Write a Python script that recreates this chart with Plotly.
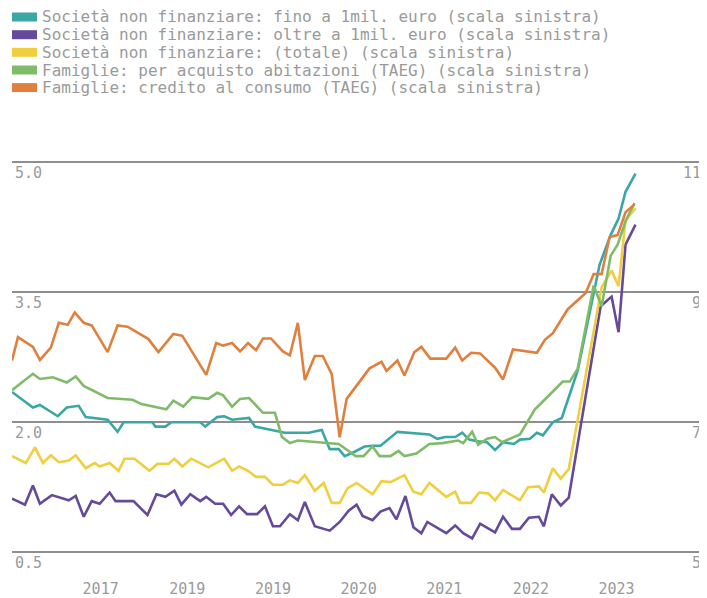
import plotly.graph_objects as go

# ---------------- data (time in decimal years) ----------------
teal_t = [2017.00, 2017.21, 2017.28, 2017.46, 2017.55, 2017.67, 2017.74, 2017.96, 2018.06, 2018.12,
          2018.41, 2018.44, 2018.54, 2018.60, 2018.89, 2018.94, 2019.06, 2019.13, 2019.21, 2019.38,
          2019.44, 2019.67, 2019.74, 2019.98, 2020.11, 2020.19, 2020.28, 2020.34, 2020.44, 2020.54,
          2020.62, 2020.70, 2020.87, 2021.19, 2021.27, 2021.35, 2021.45, 2021.52, 2021.59, 2021.68,
          2021.77, 2021.85, 2021.93, 2022.04, 2022.10, 2022.20, 2022.27, 2022.33, 2022.43, 2022.52,
          2022.68, 2022.90, 2023.01, 2023.09, 2023.16, 2023.26]
teal_v = [2.35, 2.17, 2.20, 2.07, 2.17, 2.19, 2.06, 2.03, 1.89, 2.00,
          2.00, 1.95, 1.95, 2.00, 2.00, 1.95, 2.06, 2.07, 2.03, 2.05,
          1.95, 1.90, 1.88, 1.88, 1.91, 1.69, 1.69, 1.61, 1.66, 1.72,
          1.73, 1.73, 1.89, 1.86, 1.81, 1.83, 1.83, 1.88, 1.80, 1.78,
          1.77, 1.68, 1.77, 1.75, 1.80, 1.81, 1.88, 1.85, 2.00, 2.05,
          2.60, 3.82, 4.16, 4.35, 4.66, 4.87]

purple_t = [2017.00, 2017.13, 2017.21, 2017.28, 2017.40, 2017.57, 2017.64, 2017.72, 2017.80, 2017.88,
            2017.98, 2018.04, 2018.22, 2018.36, 2018.45, 2018.54, 2018.63, 2018.70, 2018.79, 2018.89,
            2018.95, 2019.04, 2019.12, 2019.20, 2019.28, 2019.36, 2019.46, 2019.54, 2019.62, 2019.69,
            2019.79, 2019.87, 2019.94, 2020.04, 2020.19, 2020.29, 2020.38, 2020.46, 2020.52, 2020.62,
            2020.70, 2020.79, 2020.86, 2020.95, 2021.03, 2021.11, 2021.17, 2021.36, 2021.45, 2021.53,
            2021.62, 2021.70, 2021.85, 2021.93, 2022.02, 2022.10, 2022.19, 2022.29, 2022.34, 2022.42,
            2022.51, 2022.59, 2022.91, 2023.02, 2023.09, 2023.16, 2023.26]
purple_v = [1.12, 1.05, 1.27, 1.06, 1.16, 1.10, 1.15, 0.91, 1.09, 1.06,
            1.19, 1.09, 1.09, 0.93, 1.17, 1.14, 1.21, 1.05, 1.17, 1.09,
            1.14, 1.06, 1.06, 0.93, 1.03, 0.94, 0.94, 1.03, 0.80, 0.80,
            0.94, 0.87, 1.08, 0.80, 0.75, 0.85, 0.98, 1.05, 0.92, 0.87,
            0.97, 1.01, 0.88, 1.15, 0.79, 0.72, 0.85, 0.72, 0.81, 0.72,
            0.66, 0.83, 0.73, 0.91, 0.77, 0.77, 0.90, 0.91, 0.80, 1.17,
            1.04, 1.13, 3.34, 3.45, 3.04, 4.05, 4.28]

yellow_t = [2017.00, 2017.14, 2017.23, 2017.31, 2017.39, 2017.47, 2017.57, 2017.64, 2017.74, 2017.83,
            2017.88, 2017.98, 2018.07, 2018.13, 2018.23, 2018.38, 2018.46, 2018.57, 2018.63, 2018.71,
            2018.80, 2018.97, 2019.13, 2019.21, 2019.28, 2019.37, 2019.45, 2019.54, 2019.62, 2019.72,
            2019.79, 2019.87, 2019.94, 2020.04, 2020.13, 2020.21, 2020.29, 2020.37, 2020.46, 2020.62,
            2020.71, 2020.80, 2020.94, 2021.03, 2021.11, 2021.19, 2021.36, 2021.45, 2021.50, 2021.61,
            2021.69, 2021.78, 2021.85, 2021.93, 2022.10, 2022.18, 2022.29, 2022.34, 2022.43, 2022.51,
            2022.59, 2022.92, 2023.02, 2023.09, 2023.16, 2023.26]
yellow_v = [1.61, 1.53, 1.71, 1.53, 1.62, 1.54, 1.56, 1.62, 1.47, 1.53,
            1.49, 1.53, 1.44, 1.58, 1.58, 1.44, 1.52, 1.52, 1.58, 1.49,
            1.58, 1.48, 1.58, 1.44, 1.49, 1.44, 1.37, 1.37, 1.28, 1.28,
            1.33, 1.30, 1.39, 1.21, 1.30, 1.07, 1.07, 1.24, 1.30, 1.17,
            1.32, 1.31, 1.39, 1.20, 1.17, 1.30, 1.14, 1.20, 1.07, 1.07,
            1.19, 1.18, 1.10, 1.22, 1.10, 1.25, 1.26, 1.19, 1.47, 1.35,
            1.46, 3.56, 3.75, 3.57, 4.33, 4.47]

green_t = [2017.00, 2017.21, 2017.28, 2017.41, 2017.55, 2017.64, 2017.72, 2017.96, 2018.21, 2018.30,
           2018.55, 2018.62, 2018.72, 2018.81, 2018.97, 2019.06, 2019.12, 2019.21, 2019.29, 2019.38,
           2019.52, 2019.64, 2019.71, 2019.79, 2019.87, 2020.28, 2020.39, 2020.45, 2020.53, 2020.62,
           2020.69, 2020.80, 2020.88, 2020.94, 2021.06, 2021.19, 2021.32, 2021.48, 2021.53, 2021.62,
           2021.68, 2021.77, 2021.85, 2021.92, 2022.10, 2022.16, 2022.25, 2022.33, 2022.53, 2022.60,
           2022.68, 2022.84, 2022.92, 2023.01, 2023.08, 2023.16, 2023.25]
green_v = [2.37, 2.56, 2.50, 2.52, 2.46, 2.53, 2.42, 2.28, 2.26, 2.21,
           2.15, 2.25, 2.18, 2.29, 2.27, 2.34, 2.31, 2.18, 2.27, 2.28,
           2.11, 2.11, 1.83, 1.76, 1.79, 1.75, 1.66, 1.61, 1.61, 1.72,
           1.61, 1.61, 1.67, 1.61, 1.64, 1.75, 1.76, 1.79, 1.76, 1.89,
           1.74, 1.81, 1.83, 1.77, 1.86, 1.97, 2.15, 2.24, 2.47, 2.47,
           2.62, 3.58, 3.34, 3.92, 4.05, 4.32, 4.53]

orange_t = [2017.00, 2017.06, 2017.21, 2017.28, 2017.39, 2017.47, 2017.56, 2017.63, 2017.72, 2017.80,
            2017.96, 2018.06, 2018.16, 2018.37, 2018.47, 2018.62, 2018.71, 2018.95, 2019.05, 2019.12,
            2019.21, 2019.29, 2019.37, 2019.45, 2019.52, 2019.60, 2019.72, 2019.79, 2019.87, 2019.94,
            2020.04, 2020.12, 2020.21, 2020.29, 2020.36, 2020.59, 2020.71, 2020.76, 2020.87, 2020.94,
            2021.04, 2021.11, 2021.20, 2021.36, 2021.45, 2021.52, 2021.61, 2021.70, 2021.85, 2021.93,
            2022.03, 2022.27, 2022.35, 2022.43, 2022.58, 2022.76, 2022.84, 2022.92, 2023.00, 2023.08,
            2023.16, 2023.25]
orange_v = [7.95, 8.31, 8.16, 7.96, 8.15, 8.53, 8.50, 8.69, 8.53, 8.49,
            8.08, 8.49, 8.47, 8.28, 8.08, 8.36, 8.33, 7.73, 8.22, 8.18,
            8.22, 8.09, 8.22, 8.11, 8.29, 8.29, 8.09, 8.03, 8.53, 7.65,
            8.02, 8.02, 7.74, 6.77, 7.36, 7.83, 7.93, 7.79, 7.95, 7.72,
            8.08, 8.16, 7.98, 7.98, 8.15, 7.95, 8.07, 8.06, 7.84, 7.66,
            8.12, 8.07, 8.27, 8.37, 8.74, 8.99, 9.28, 9.28, 9.85, 9.88,
            10.23, 10.35]

series_names = [
    "Società non finanziare: fino a 1mil. euro (scala sinistra)",
    "Società non finanziare: oltre a 1mil. euro (scala sinistra)",
    "Società non finanziare: (totale) (scala sinistra)",
    "Famiglie: per acquisto abitazioni (TAEG) (scala sinistra)",
    "Famiglie: credito al consumo (TAEG) (scala sinistra)",
]
series_colors = ["#3aa7a4", "#654a9b", "#f0ce40", "#80bb6a", "#e0803f"]

x_tick_pos = [2017.89, 2018.76, 2019.62, 2020.48, 2021.34, 2022.21, 2023.07]
x_tick_labels = ["2017", "2019", "2019", "2020", "2021", "2022", "2023"]
left_ticks = [0.5, 2.0, 3.5, 5.0]
right_ticks = [5, 7, 9, 11]

# ---------------- figure ----------------
FONT = "DejaVu Sans Mono"
GREY = "#9a9a9a"

# the page body adds an 8px offset, so the figure is sized to fit the window
OFF = 8
W, H = 707 - OFF, 598 - OFF
ML, MR, MT, MB = 4, 0, 151, 22
PW, PH = W - ML - MR, H - MT - MB
EXT_T = 3.3      # px of plot area above the 5.0 / 11 gridline
EXT_B = 23.7     # px of plot area below the 0.5 / 5 gridline (room for labels)
L_PER_PX = 4.5 / 390.0
R_PER_PX = 6.0 / 390.0

fig = go.Figure()
data = [(teal_t, teal_v, "y"), (purple_t, purple_v, "y"), (yellow_t, yellow_v, "y"),
        (green_t, green_v, "y"), (orange_t, orange_v, "y2")]
for (t, v, ax), name, col in zip(data, series_names, series_colors):
    fig.add_trace(go.Scatter(x=t, y=v, name=name, mode="lines", yaxis=ax,
                             line=dict(color=col, width=2.6), showlegend=False,
                             hoverinfo="skip"))

def page_to_paper(px, py):
    return (px - OFF - ML) / PW, (H - MB - (py - OFF)) / PH

shapes = []
annotations = []
row_y = [17, 34.7, 52.3, 70, 87.6]
for name, col, ry in zip(series_names, series_colors, row_y):
    x0, y0 = page_to_paper(12, ry + 4.5)
    x1, y1 = page_to_paper(37, ry - 4.5)
    shapes.append(dict(type="rect", xref="paper", yref="paper", x0=x0, x1=x1, y0=y0, y1=y1,
                       fillcolor=col, line=dict(width=0)))
    ax_, ay_ = page_to_paper(40, ry)
    annotations.append(dict(text=name, xref="paper", yref="paper", x=ax_, y=ay_,
                            xanchor="left", yanchor="middle", showarrow=False,
                            font=dict(family=FONT, size=16, color=GREY)))

fig.update_layout(
    width=W, height=H,
    margin=dict(l=ML, r=MR, t=MT, b=MB, pad=0, autoexpand=False),
    paper_bgcolor="white", plot_bgcolor="white",
    font=dict(family=FONT, size=15, color=GREY),
    shapes=shapes, annotations=annotations,
    xaxis=dict(range=[2017.0, 2017.0 + PW / 99.6], tickvals=x_tick_pos,
               ticktext=x_tick_labels, automargin=False,
               showgrid=False, zeroline=False, showline=False,
               ticks="", ticklen=0, ticklabelstandoff=2,
               tickfont=dict(family=FONT, size=15, color=GREY)),
    yaxis=dict(range=[0.5 - EXT_B * L_PER_PX, 5.0 + EXT_T * L_PER_PX], tickvals=left_ticks,
               tickformat=".1f",
               showgrid=True, gridcolor="#8e8e8e", gridwidth=1.6, automargin=False,
               zeroline=False, showline=False, ticks="",
               ticklabelposition="inside bottom",
               tickfont=dict(family=FONT, size=15, color=GREY)),
    yaxis2=dict(range=[5 - EXT_B * R_PER_PX, 11 + EXT_T * R_PER_PX], tickvals=right_ticks,
                overlaying="y",
                side="right", showgrid=False, zeroline=False, showline=False, ticks="",
                automargin=False, ticklabelposition="inside bottom", ticklabelstandoff=3,
                tickfont=dict(family=FONT, size=15, color=GREY)),
)

fig.write_html("out.html")
